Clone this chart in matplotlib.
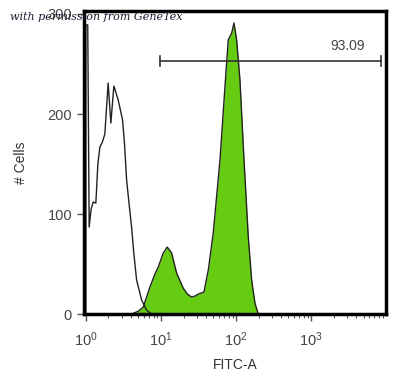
import matplotlib.pyplot as plt
import numpy as np
from matplotlib.ticker import LogLocator, NullFormatter

plt.rcParams['font.family'] = ['Liberation Sans', 'DejaVu Sans']
plt.rcParams['mathtext.fontset'] = 'custom'
plt.rcParams['mathtext.rm'] = 'Liberation Sans'

# unstained control (outline only), FITC value as log10 exponent
unstained_exp = [0.0, 0.0, 0.025, 0.044, 0.070, 0.097, 0.133, 0.160, 0.187, 0.220,
                 0.253, 0.297, 0.333, 0.373, 0.431, 0.489, 0.515, 0.543, 0.576,
                 0.609, 0.640, 0.676, 0.743, 0.809, 0.876]
unstained_cnt = [0, 289, 289, 87, 105, 112, 111, 150, 167, 172,
                 180, 231, 191, 228, 214, 194, 170, 134, 110,
                 87, 60, 34, 14, 4, 0]

# stained sample (green filled)
stained_exp = [0.609, 0.700, 0.764, 0.853, 0.920, 0.964, 1.031, 1.084, 1.143, 1.209,
               1.297, 1.353, 1.409, 1.453, 1.497, 1.573, 1.631, 1.697, 1.787, 1.853,
               1.897, 1.943, 1.973, 2.009, 2.053, 2.107, 2.164, 2.209, 2.253, 2.297]
stained_cnt = [0, 3, 7, 27, 40, 47, 61, 67, 61, 41,
               26, 20, 17, 18, 20, 22, 44, 81, 154, 227,
               274, 281, 291, 274, 234, 154, 77, 34, 11, 0]

gate_lo, gate_hi, gate_y = 9.7, 8570, 253
gate_label = '93.09'

ux = 10 ** np.array(unstained_exp)
sx = 10 ** np.array(stained_exp)

fig = plt.figure(figsize=(4.09, 3.78), dpi=100)
ax = fig.add_axes([0.205, 0.169, 0.739, 0.802])

ax.fill_between(sx, stained_cnt, color='#66cc11', lw=0)
ax.plot(sx, stained_cnt, color='#222222', lw=1.0)
ax.plot(ux, unstained_cnt, color='#222222', lw=1.0)

# gate bar
ax.plot([gate_lo, gate_hi], [gate_y, gate_y], color='#333333', lw=1.2)
for gx in (gate_lo, gate_hi):
    ax.plot([gx, gx], [gate_y - 5, gate_y + 5], color='#333333', lw=1.2)
ax.text(3100, gate_y + 8, gate_label, ha='center', va='bottom', fontsize=10, color='#444444')

ax.set_xscale('log')
ax.set_xlim(0.94, 10000)
ax.set_ylim(0, 303)
ax.set_yticks([0, 100, 200, 300])
ax.xaxis.set_minor_locator(LogLocator(base=10, subs=np.arange(2, 10), numticks=20))
ax.xaxis.set_minor_formatter(NullFormatter())
ax.set_xticks([1, 10, 100, 1000])

for s in ax.spines.values():
    s.set_linewidth(2.5)
    s.set_color('black')

ax.tick_params(axis='both', which='major', length=5, width=1, color='#555555',
               labelsize=10.5, labelcolor='#444444')
ax.tick_params(axis='x', which='major', pad=7)
ax.tick_params(axis='x', which='minor', length=3, width=0.8, color='#555555')

ax.set_xlabel('FITC-A', fontsize=10, color='#333333', labelpad=6)
ax.set_ylabel('# Cells', fontsize=10, color='#333333', labelpad=14)

fig.text(0.025, 0.955, 'with permission from GeneTex', fontsize=8, style='italic',
         family='DejaVu Serif', color='#1a1a2e', va='center')

plt.savefig('out.png', dpi=100)
